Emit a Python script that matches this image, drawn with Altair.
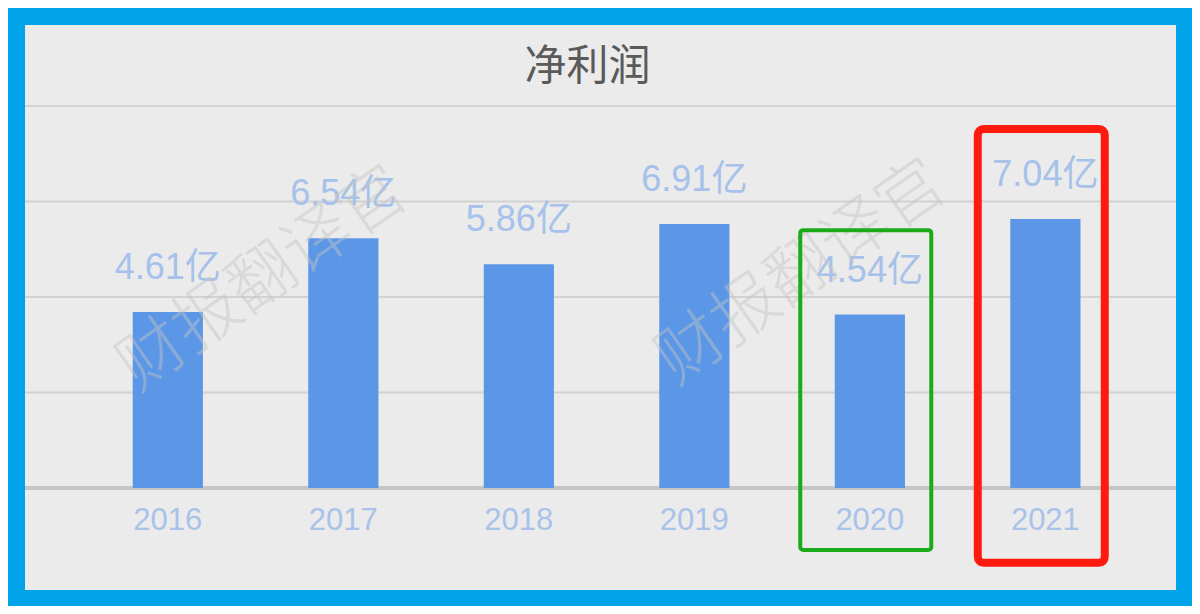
import altair as alt
import pandas as pd

# ---- data ----
years = ["2016", "2017", "2018", "2019", "2020", "2021"]
profit = [4.61, 6.54, 5.86, 6.91, 4.54, 7.04]          # 净利润, 亿元
labels = [f"{v:.2f}亿" for v in profit]
grid_values = [2.5, 5, 7.5, 10]
base_value = [0]
title_text = "净利润"
watermark_text = "财报翻译官"
# highlight boxes (year, top, bottom in value units)
green_box = {"year": ["2020"], "top": [6.75], "bottom": [-1.62]}
red_box = {"year": ["2021"], "top": [9.40], "bottom": [-1.96]}

df = pd.DataFrame({"year": years, "v": profit, "label": labels})
one = pd.DataFrame({"k": [0]})

W, H = 1151, 382

xscale = alt.Scale(domain=years, paddingInner=0.6, paddingOuter=0.579, align=0.53)
yscale = alt.Scale(domain=[0, 10], nice=False, zero=True)

num_font = "Liberation Sans, Noto Sans CJK SC"
cjk_font = "Noto Sans CJK SC"

bg = alt.Chart(one).mark_rect(color="#ebebeb").encode(
    x=alt.value(0), x2=alt.value(W), y=alt.value(-81), y2=alt.value(484)
)

grid = alt.Chart(pd.DataFrame({"g": grid_values})).mark_rule(
    color="#d2d2d2", strokeWidth=2
).encode(y=alt.Y("g:Q", scale=yscale, axis=None))

base = alt.Chart(pd.DataFrame({"g": base_value})).mark_rule(
    color="#c6c6c6", strokeWidth=4
).encode(y=alt.Y("g:Q", scale=yscale, axis=None))

xenc = alt.X(
    "year:N",
    scale=xscale,
    sort=years,
    axis=alt.Axis(
        title=None,
        labelAngle=0,
        labelFont=num_font,
        labelFontSize=31,
        labelColor="#a9c2ea",
        ticks=False,
        tickSize=0,
        domain=False,
        grid=False,
        labelPadding=17,
        zindex=1,
    ),
)

bars = alt.Chart(df).mark_bar(color="#5c97e7").encode(
    x=xenc, y=alt.Y("v:Q", scale=yscale, axis=None)
)

text = alt.Chart(df).mark_text(
    dy=-33, baseline="alphabetic", fontSize=36, font=num_font, color="#a6c1ea"
).encode(x=alt.X("year:N", scale=xscale, sort=years), y=alt.Y("v:Q", scale=yscale), text="label:N")

def watermark(year, yv, off):
    return alt.Chart(one).mark_text(
        text=watermark_text,
        angle=325,
        fontSize=67,
        font=cjk_font,
        fontWeight=300,
        color="#c4c4c4",
        opacity=0.45,
        baseline="middle",
        align="center",
    ).encode(
        x=alt.X(datum=year, type="nominal", scale=xscale),
        xOffset=alt.value(off),
        y=alt.Y(datum=yv, type="quantitative", scale=yscale),
    )

wm1 = watermark("2017", 5.45, -45)
wm2 = watermark("2020", 5.63, -33)

box_g = alt.Chart(pd.DataFrame(green_box)).mark_bar(
    filled=False, color="#1aaa1a", strokeWidth=4, width=131, cornerRadius=3
).encode(
    x=alt.X("year:N", scale=xscale, sort=years),
    xOffset=alt.value(31),
    y=alt.Y("top:Q", scale=yscale),
    y2="bottom:Q",
)

box_r = alt.Chart(pd.DataFrame(red_box)).mark_bar(
    filled=False, color="#ff1a10", strokeWidth=8, width=127, cornerRadius=6
).encode(
    x=alt.X("year:N", scale=xscale, sort=years),
    xOffset=alt.value(31),
    y=alt.Y("top:Q", scale=yscale),
    y2="bottom:Q",
)

chart = (
    alt.layer(bg, grid, base, bars, text, wm1, wm2, box_g, box_r)
    .properties(
        width=W,
        height=H,
        padding={"left": 17, "top": 98, "right": 16, "bottom": 118},
        autosize=alt.AutoSizeParams(type="none"),
        title=alt.Title(
            title_text,
            fontSize=42,
            font=cjk_font,
            color="#5a5a5a",
            fontWeight="normal",
            anchor="middle",
            baseline="alphabetic",
            offset=-97,
            dx=-13,
        ),
    )
    .configure(background="#00a2e8")
    .configure_view(strokeWidth=0)
)

chart.save("out.html", embed_options={"renderer": "svg", "actions": False})
